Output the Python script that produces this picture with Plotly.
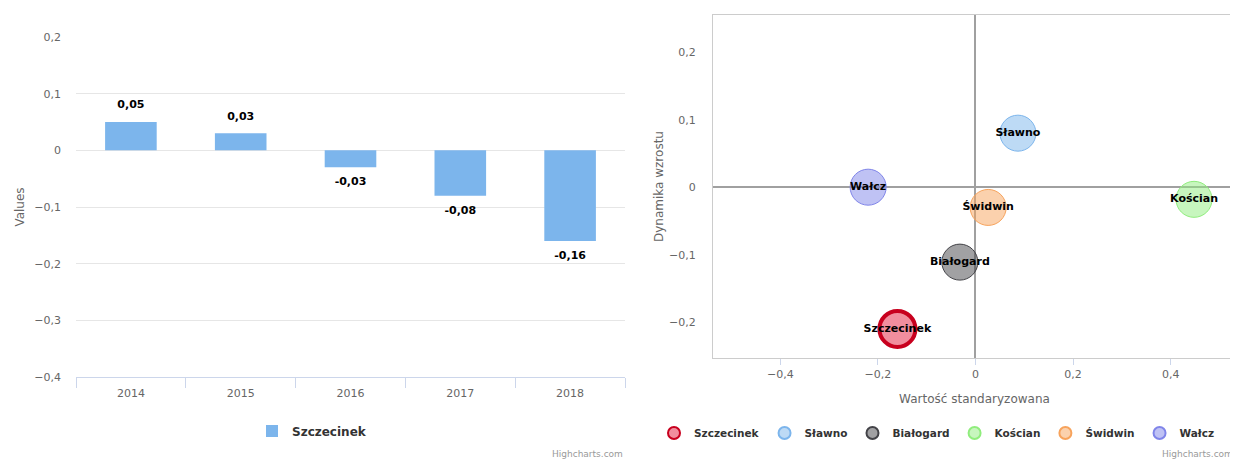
import plotly.graph_objects as go

# ---- data: left chart (column) ----
years = [2014, 2015, 2016, 2017, 2018]
year_labels = ["2014", "2015", "2016", "2017", "2018"]
values = [0.05, 0.03, -0.03, -0.08, -0.16]
bar_series = "Szczecinek"

# ---- data: right chart (bubble) ----
cities = ["Szczecinek", "Sławno", "Białogard", "Kościan", "Świdwin", "Wałcz"]
std_value = [-0.16, 0.087, -0.032, 0.448, 0.026, -0.22]
growth = [-0.21, 0.08, -0.111, -0.018, -0.03, 0.0]

fills = ["rgba(228,30,62,0.5)", "rgba(124,181,236,0.5)", "rgba(67,67,72,0.5)",
         "rgba(144,237,125,0.5)", "rgba(247,163,92,0.5)", "rgba(128,133,233,0.5)"]
lines = ["#c8001e", "#7cb5ec", "#434348", "#90ed7d", "#f7a35c", "#8085e9"]
line_w = [4, 1, 1, 1, 1, 1]

# page body has an 8px margin: the figure is sized/positioned to fill the 1238x459 view
OFF = 8
W, H = 1238 - OFF, 459 - OFF
FONT = "DejaVu Sans"

def px_x(p):
    return (p - OFF) / W

def px_y(p):
    return (H - (p - OFF)) / H

fig = go.Figure()

fig.add_trace(go.Bar(
    x=years, y=values, name=bar_series, width=0.47,
    marker=dict(color="#7cb5ec", line=dict(width=0)),
    xaxis="x", yaxis="y", legend="legend", hoverinfo="x+y",
))

# data labels for the columns (above positive, below negative bars)
fig.add_trace(go.Scatter(
    x=years, y=values, mode="markers+text", showlegend=False, hoverinfo="skip",
    texttemplate="%{y:.2f}",
    textposition=["top center" if v >= 0 else "bottom center" for v in values],
    textfont=dict(family=FONT, size=11, color="#000000", weight="bold"),
    marker=dict(size=[16 if v >= 0 else 14 for v in values], opacity=0,
                color="rgba(0,0,0,0)", line=dict(width=0)),
    xaxis="x", yaxis="y", cliponaxis=False,
))

for i, c in enumerate(cities):
    fig.add_trace(go.Scatter(
        x=[std_value[i]], y=[growth[i]], name=c, mode="markers+text",
        text=[c], textposition="middle center",
        textfont=dict(family=FONT, size=11, color="#000000", weight="bold"),
        marker=dict(size=36, color=fills[i], line=dict(color=lines[i], width=line_w[i])),
        xaxis="x2", yaxis="y2", legend="legend2", cliponaxis=False,
    ))

tickfont = dict(family=FONT, size=11, color="#666666")

fig.update_layout(
    width=W, height=H, autosize=False,
    margin=dict(l=0, r=0, t=0, b=0, autoexpand=False),
    paper_bgcolor="white", plot_bgcolor="white",
    separators=", ",
    font=dict(family=FONT, color="#333333"),
    showlegend=True,
    xaxis=dict(
        domain=[px_x(76), px_x(625)], range=[2013.5, 2018.5],
        tickmode="array", tickvals=years, ticktext=year_labels,
        ticks="", showgrid=False, zeroline=False,
        showline=True, linecolor="#ccd6eb", linewidth=1,
        minor=dict(tickmode="linear", tick0=2013.5, dtick=1, ticks="outside",
                   ticklen=10, tickcolor="#ccd6eb", showgrid=False),
        tickfont=tickfont, ticklabelstandoff=6, fixedrange=True,
    ),
    yaxis=dict(
        domain=[px_y(377), px_y(37)], range=[-0.4, 0.2],
        tick0=0, dtick=0.1, showgrid=True, gridcolor="#e6e6e6", gridwidth=1,
        zeroline=False, showline=False, ticks="",
        tickfont=tickfont, ticklabelstandoff=14,
        title=dict(text="Values", font=dict(family=FONT, size=12, color="#666666"), standoff=7),
    ),
    xaxis2=dict(
        domain=[px_x(713), px_x(1236)], range=[-0.538, 0.534], anchor="y2",
        tick0=0, dtick=0.2, ticks="outside", ticklen=6, tickcolor="#ccd6eb",
        showgrid=False, zeroline=True, zerolinecolor="#a0a0a0", zerolinewidth=2,
        showline=True, mirror=True, linecolor="#cccccc", linewidth=1,
        tickfont=tickfont, ticklabelstandoff=0,
        title=dict(text="Wartość standaryzowana", font=dict(family=FONT, size=12, color="#666666"), standoff=14),
    ),
    yaxis2=dict(
        domain=[px_y(358), px_y(15)], range=[-0.253, 0.255], anchor="x2",
        tick0=0, dtick=0.1, ticks="", showgrid=False,
        zeroline=True, zerolinecolor="#a0a0a0", zerolinewidth=2,
        showline=True, mirror=True, linecolor="#cccccc", linewidth=1,
        tickfont=tickfont, ticklabelstandoff=14,
        title=dict(text="Dynamika wzrostu", font=dict(family=FONT, size=12, color="#666666"), standoff=2),
    ),
    legend=dict(
        orientation="h", xref="container", yref="container",
        x=px_x(252), xanchor="left", y=px_y(431), yanchor="middle",
        font=dict(family=FONT, size=12, color="#333333", weight="bold"),
        bgcolor="rgba(0,0,0,0)",
    ),
    legend2=dict(
        orientation="h", xref="container", yref="container",
        x=px_x(654), xanchor="left", y=px_y(433), yanchor="middle",
        font=dict(family=FONT, size=10.5, color="#333333", weight="bold"),
        itemsizing="constant", bgcolor="rgba(0,0,0,0)",
    ),
    annotations=[
        dict(text="Highcharts.com", xref="paper", yref="paper", x=px_x(625), y=px_y(454),
             xanchor="right", yanchor="middle", showarrow=False,
             font=dict(family=FONT, size=9, color="#999999")),
        dict(text="Highcharts.com", xref="paper", yref="paper", x=px_x(1235), y=px_y(454),
             xanchor="right", yanchor="middle", showarrow=False,
             font=dict(family=FONT, size=9, color="#999999")),
    ],
)

fig.write_html("out.html", config={"displayModeBar": False})
